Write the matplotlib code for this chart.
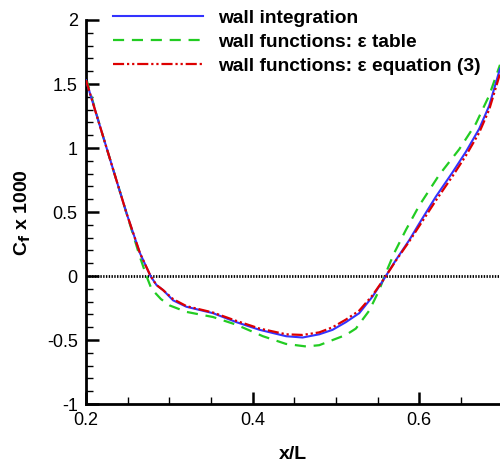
import matplotlib
matplotlib.use("Agg")
import matplotlib.pyplot as plt
from matplotlib.ticker import MultipleLocator, FuncFormatter

plt.rcParams["font.family"] = ["Liberation Sans", "DejaVu Sans"]
plt.rcParams["axes.unicode_minus"] = False

# --- data ---
x_wall = [0.200, 0.2168, 0.2327, 0.2487, 0.2647, 0.2775, 0.2846, 0.2926, 0.3046,
          0.3206, 0.3525, 0.3805, 0.4084, 0.4403, 0.460, 0.480, 0.496, 0.512,
          0.528, 0.544, 0.558, 0.572, 0.588, 0.600, 0.620, 0.640, 0.656, 0.672,
          0.684, 0.697]
cf_wall = [1.53, 1.17, 0.83, 0.49, 0.18, 0.0, -0.07, -0.11, -0.19,
           -0.24, -0.29, -0.36, -0.42, -0.47, -0.48, -0.455, -0.42, -0.36,
           -0.29, -0.16, -0.02, 0.125, 0.28, 0.41, 0.62, 0.81, 0.97, 1.15,
           1.33, 1.62]

x_eps_eq = x_wall
cf_eps_eq = [1.53, 1.17, 0.83, 0.49, 0.18, 0.0, -0.07, -0.11, -0.18,
             -0.235, -0.285, -0.35, -0.41, -0.455, -0.46, -0.44, -0.40, -0.34,
             -0.27, -0.15, -0.02, 0.12, 0.27, 0.39, 0.59, 0.78, 0.94, 1.12,
             1.30, 1.58]

x_eps_table = [0.200, 0.2168, 0.2327, 0.2487, 0.2647, 0.2726, 0.2786, 0.290,
               0.3006, 0.3206, 0.3525, 0.3805, 0.4124, 0.440, 0.4643, 0.480,
               0.496, 0.512, 0.524, 0.540, 0.552, 0.559, 0.570, 0.584, 0.600,
               0.624, 0.648, 0.668, 0.684, 0.697]
cf_eps_table = [1.55, 1.17, 0.83, 0.49, 0.15, 0.0, -0.10, -0.18,
                -0.23, -0.28, -0.32, -0.38, -0.47, -0.53, -0.55, -0.54,
                -0.50, -0.46, -0.41, -0.27, -0.11, 0.01, 0.18, 0.36, 0.55,
                0.79, 0.99, 1.19, 1.41, 1.65]

labels = ["wall integration",
          "wall functions: \u03b5 table",
          "wall functions: \u03b5 equation (3)"]

fig = plt.figure(figsize=(5.0, 4.65), dpi=100)
ax = fig.add_axes([0.172, 0.131, 0.828, 0.826])

ax.axhline(0, color="black", lw=2.0, ls=(0, (0.5, 0.5)), zorder=1)
ax.plot(x_wall, cf_wall, color="#3333ff", lw=1.5, label=labels[0], zorder=3)
ax.plot(x_eps_table, cf_eps_table, color="#22cc22", lw=1.6,
        ls=(0, (5, 3.5)), label=labels[1], zorder=2)
ax.plot(x_eps_eq, cf_eps_eq, color="#dd0000", lw=1.6,
        ls=(0, (5, 1.3, 1, 1.3, 1, 1.3)), label=labels[2], zorder=4)

ax.set_xlim(0.2, 0.697)
ax.set_ylim(-1, 2)
ax.xaxis.set_major_locator(MultipleLocator(0.2))
ax.xaxis.set_minor_locator(MultipleLocator(0.05))
ax.yaxis.set_major_locator(MultipleLocator(0.5))
ax.yaxis.set_minor_locator(MultipleLocator(0.1))
fmt = FuncFormatter(lambda v, pos: f"{v:g}")
ax.xaxis.set_major_formatter(fmt)
ax.yaxis.set_major_formatter(fmt)
ax.tick_params(which="major", direction="in", length=9, width=1.8,
               labelsize=13, pad=6)
ax.tick_params(which="minor", direction="in", length=5, width=1.0)

for side in ["top", "right"]:
    ax.spines[side].set_visible(False)
for side in ["left", "bottom"]:
    ax.spines[side].set_linewidth(2)

ax.set_xlabel("x/L", fontsize=14, fontweight="bold", labelpad=12)
ax.set_ylabel(r"C$_\mathbf{f}$ x 1000", fontsize=14, fontweight="bold", labelpad=10)

leg = ax.legend(loc="upper left", bbox_to_anchor=(0.065, 1.028), frameon=False,
                borderaxespad=0, borderpad=0,
                handlelength=4.7, handletextpad=0.8, labelspacing=0.35,
                prop={"weight": "bold", "size": 13.8})

fig.savefig("out.png", dpi=100)
